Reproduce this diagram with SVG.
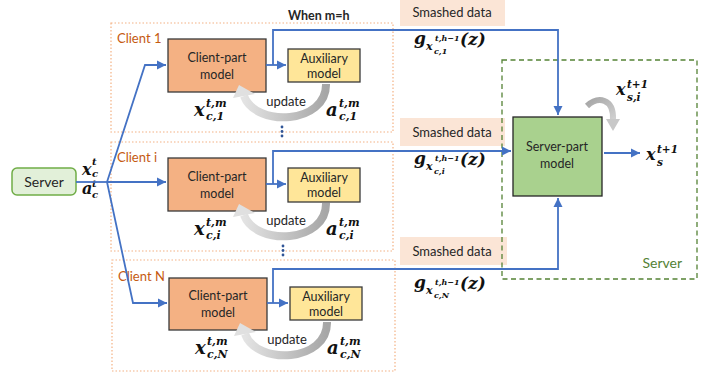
<svg xmlns="http://www.w3.org/2000/svg" width="713" height="375" viewBox="0 0 713 375">
  <style>
    .lbl { font-family: Lato, "Liberation Sans", sans-serif; fill: #262626; }
    .math { font-family: "DejaVu Serif", "Liberation Serif", serif; font-style: italic; font-weight: bold; fill: #111; }
    .client-frame { fill: none; stroke: #f4b183; stroke-width: 1.2; stroke-dasharray: 1.5 2; }
    .client-name { font-family: Lato, "Liberation Sans", sans-serif; font-size: 13px; fill: #c55a11; }
    .cpart { fill: #f4b183; stroke: #3a3a3a; stroke-width: 1.3; }
    .aux { fill: #ffe699; stroke: #3a3a3a; stroke-width: 1.3; }
    .smash { fill: #fbe5d6; }
    .conn { fill: none; stroke: #4472c4; stroke-width: 1.8; }
    .dots { fill: #2f5597; }
  </style>
  <defs>
    <marker id="ah" markerWidth="10" markerHeight="10" viewBox="0 0 10 10" refX="9" refY="5" markerUnits="userSpaceOnUse" orient="auto">
      <path d="M0,0.5 L9,5 L0,9.5 Z" fill="#4472c4"/>
    </marker>
    <linearGradient id="upd" x1="1" y1="0" x2="0" y2="0">
      <stop offset="0" stop-color="#a6a6a6"/>
      <stop offset="1" stop-color="#e3e3e3"/>
    </linearGradient>
    <linearGradient id="loopg" x1="0" y1="0" x2="1" y2="1">
      <stop offset="0" stop-color="#a6a6a6"/>
      <stop offset="1" stop-color="#d0d0d0"/>
    </linearGradient>
    <!-- update loop: auxiliary model back to client-part model -->
    <g id="updateLoop">
      <path d="M326,84 C327,124 256,128 244,96" fill="none" stroke="url(#upd)" stroke-width="8"/>
      <path d="M233,98 L239,85 L255,94 Z" fill="#e0e0e0"/>
    </g>
  </defs>

  <!-- server (global) -->
  <g id="server">
    <rect x="12" y="168" width="64" height="27" rx="5" fill="#e2f0d9" stroke="#70ad47" stroke-width="1.5"/>
    <text class="lbl" x="44" y="187" font-size="14" text-anchor="middle">Server</text>
    <text class="math" x="82" y="175" font-size="16">x</text>
    <text class="math" x="92" y="165" font-size="10">t</text>
    <text class="math" x="92" y="177" font-size="10">c</text>
    <text class="math" x="82" y="194" font-size="16">a</text>
    <text class="math" x="92" y="187" font-size="10">t</text>
    <text class="math" x="92" y="198" font-size="10">c</text>
  </g>

  <!-- client 1 -->
  <g id="client1">
    <rect class="client-frame" x="111" y="23" width="282" height="109"/>
    <text class="client-name" x="117" y="43">Client 1</text>
    <rect class="cpart" x="168" y="39" width="98" height="53"/>
    <text class="lbl" x="217" y="62" font-size="12.5" text-anchor="middle">Client-part</text>
    <text class="lbl" x="217" y="79" font-size="12.5" text-anchor="middle">model</text>
    <rect class="aux" x="288" y="49" width="72" height="33"/>
    <text class="lbl" x="324" y="63" font-size="12.5" text-anchor="middle">Auxiliary</text>
    <text class="lbl" x="324" y="78" font-size="12.5" text-anchor="middle">model</text>
    <use href="#updateLoop"/>
    <text class="lbl" x="286" y="106" font-size="13" text-anchor="middle">update</text>
    <text class="math" x="194" y="116" font-size="18">x</text>
    <text class="math" x="206" y="107" font-size="11">t,m</text>
    <text class="math" x="206" y="120" font-size="11">c,1</text>
    <text class="math" x="326" y="116" font-size="18">a</text>
    <text class="math" x="339" y="107" font-size="11">t,m</text>
    <text class="math" x="339" y="120" font-size="11">c,1</text>
  </g>

  <!-- client i -->
  <g id="clienti">
    <rect class="client-frame" x="111" y="142" width="282" height="109"/>
    <text class="client-name" x="117" y="162">Client i</text>
    <rect class="cpart" x="168" y="158" width="98" height="53"/>
    <text class="lbl" x="217" y="181" font-size="12.5" text-anchor="middle">Client-part</text>
    <text class="lbl" x="217" y="198" font-size="12.5" text-anchor="middle">model</text>
    <rect class="aux" x="288" y="168" width="72" height="34"/>
    <text class="lbl" x="324" y="182" font-size="12.5" text-anchor="middle">Auxiliary</text>
    <text class="lbl" x="324" y="197" font-size="12.5" text-anchor="middle">model</text>
    <use href="#updateLoop" transform="translate(0,119)"/>
    <text class="lbl" x="286" y="225" font-size="13" text-anchor="middle">update</text>
    <text class="math" x="194" y="235" font-size="18">x</text>
    <text class="math" x="206" y="226" font-size="11">t,m</text>
    <text class="math" x="206" y="239" font-size="11">c,i</text>
    <text class="math" x="326" y="235" font-size="18">a</text>
    <text class="math" x="339" y="226" font-size="11">t,m</text>
    <text class="math" x="339" y="239" font-size="11">c,i</text>
  </g>

  <!-- client N -->
  <g id="clientN">
    <rect class="client-frame" x="112" y="260" width="283" height="111"/>
    <text class="client-name" x="118" y="281">Client N</text>
    <rect class="cpart" x="169" y="278" width="98" height="52"/>
    <text class="lbl" x="218" y="300" font-size="12.5" text-anchor="middle">Client-part</text>
    <text class="lbl" x="218" y="317" font-size="12.5" text-anchor="middle">model</text>
    <rect class="aux" x="290" y="287" width="72" height="33"/>
    <text class="lbl" x="326" y="301" font-size="12.5" text-anchor="middle">Auxiliary</text>
    <text class="lbl" x="326" y="316" font-size="12.5" text-anchor="middle">model</text>
    <use href="#updateLoop" transform="translate(1,238)"/>
    <text class="lbl" x="287" y="344" font-size="13" text-anchor="middle">update</text>
    <text class="math" x="195" y="354" font-size="18">x</text>
    <text class="math" x="207" y="345" font-size="11">t,m</text>
    <text class="math" x="207" y="358" font-size="11">c,N</text>
    <text class="math" x="327" y="354" font-size="18">a</text>
    <text class="math" x="340" y="345" font-size="11">t,m</text>
    <text class="math" x="340" y="358" font-size="11">c,N</text>
  </g>

  <!-- vertical ellipses between clients -->
  <g id="ellipses" class="dots">
    <circle cx="282" cy="127" r="1.4"/><circle cx="282" cy="131.5" r="1.4"/><circle cx="282" cy="136" r="1.4"/>
    <circle cx="283" cy="246" r="1.4"/><circle cx="283" cy="250.5" r="1.4"/><circle cx="283" cy="255" r="1.4"/>
  </g>

  <!-- smashed data labels -->
  <g id="smashed1">
    <rect class="smash" x="400" y="0" width="105" height="26"/>
    <text class="lbl" x="452" y="17" font-size="13" text-anchor="middle">Smashed data</text>
  </g>
  <g id="smashedi">
    <rect class="smash" x="400" y="118" width="105" height="28"/>
    <text class="lbl" x="452" y="137" font-size="13" text-anchor="middle">Smashed data</text>
  </g>
  <g id="smashedN">
    <rect class="smash" x="400" y="237" width="107" height="28"/>
    <text class="lbl" x="452" y="256" font-size="13" text-anchor="middle">Smashed data</text>
  </g>

  <!-- server side -->
  <g id="serverSide">
    <rect x="502" y="60" width="195" height="219" fill="none" stroke="#548235" stroke-width="1.3" stroke-dasharray="5 3.5"/>
    <text x="682" y="268" font-family="Lato, 'Liberation Sans', sans-serif" font-size="14" fill="#548235" text-anchor="end">Server</text>
  </g>
  <g id="serverPart">
    <rect x="513" y="117" width="89" height="79" fill="#a9d18e" stroke="#262626" stroke-width="1.3"/>
    <text class="lbl" x="557" y="151" font-size="12.5" text-anchor="middle">Server-part</text>
    <text class="lbl" x="557" y="168" font-size="12.5" text-anchor="middle">model</text>
    <!-- self-update loop -->
    <path d="M587,106 C598,96 614,98 613,120" fill="none" stroke="url(#loopg)" stroke-width="6"/>
    <path d="M606,119 L620,119 L613,131 Z" fill="#c8c8c8"/>
    <text class="math" x="616" y="95" font-size="16">x</text>
    <text class="math" x="627" y="88" font-size="10.5">t+1</text>
    <text class="math" x="627" y="101" font-size="10.5">s,i</text>
    <text class="math" x="646" y="160" font-size="16">x</text>
    <text class="math" x="657" y="153" font-size="10.5">t+1</text>
    <text class="math" x="657" y="166" font-size="10.5">s</text>
  </g>

  <text class="lbl" x="288" y="20" font-size="12.5" font-weight="bold">When m=h</text>

  <!-- gradient labels for the smashed data -->
  <g id="gradLabels">
    <text class="math" x="414" y="44" font-size="17">g</text>
    <text class="math" x="426" y="50" font-size="11">x</text>
    <text class="math" x="435" y="41" font-size="8">t,h−1</text>
    <text class="math" x="434" y="54" font-size="8">c,1</text>
    <text class="math" x="460" y="45" font-size="17">(z)</text>

    <text class="math" x="414" y="164" font-size="17">g</text>
    <text class="math" x="426" y="170" font-size="11">x</text>
    <text class="math" x="435" y="161" font-size="8">t,h−1</text>
    <text class="math" x="434" y="174" font-size="8">c,i</text>
    <text class="math" x="460" y="165" font-size="17">(z)</text>

    <text class="math" x="414" y="288" font-size="17">g</text>
    <text class="math" x="426" y="294" font-size="11">x</text>
    <text class="math" x="435" y="285" font-size="8">t,h−1</text>
    <text class="math" x="434" y="298" font-size="8">c,N</text>
    <text class="math" x="460" y="289" font-size="17">(z)</text>
  </g>

  <!-- connectors -->
  <g id="connectors">
    <line class="conn" x1="76" y1="182" x2="107" y2="182"/>
    <polyline class="conn" points="107,182 145,65 166,65" marker-end="url(#ah)"/>
    <line class="conn" x1="107" y1="182" x2="166" y2="182" marker-end="url(#ah)"/>
    <polyline class="conn" points="107,182 133,303 167,303" marker-end="url(#ah)"/>

    <line class="conn" x1="266" y1="65" x2="286" y2="65" marker-end="url(#ah)"/>
    <polyline class="conn" points="273,65 273,30 558,30 558,115" marker-end="url(#ah)"/>

    <line class="conn" x1="266" y1="184" x2="286" y2="184" marker-end="url(#ah)"/>
    <polyline class="conn" points="273,184 273,151 511,151" marker-end="url(#ah)"/>

    <line class="conn" x1="267" y1="303" x2="288" y2="303" marker-end="url(#ah)"/>
    <polyline class="conn" points="273,303 273,269 558,269 558,198" marker-end="url(#ah)"/>

    <line class="conn" x1="604" y1="153" x2="640" y2="153" marker-end="url(#ah)"/>
  </g>
</svg>
